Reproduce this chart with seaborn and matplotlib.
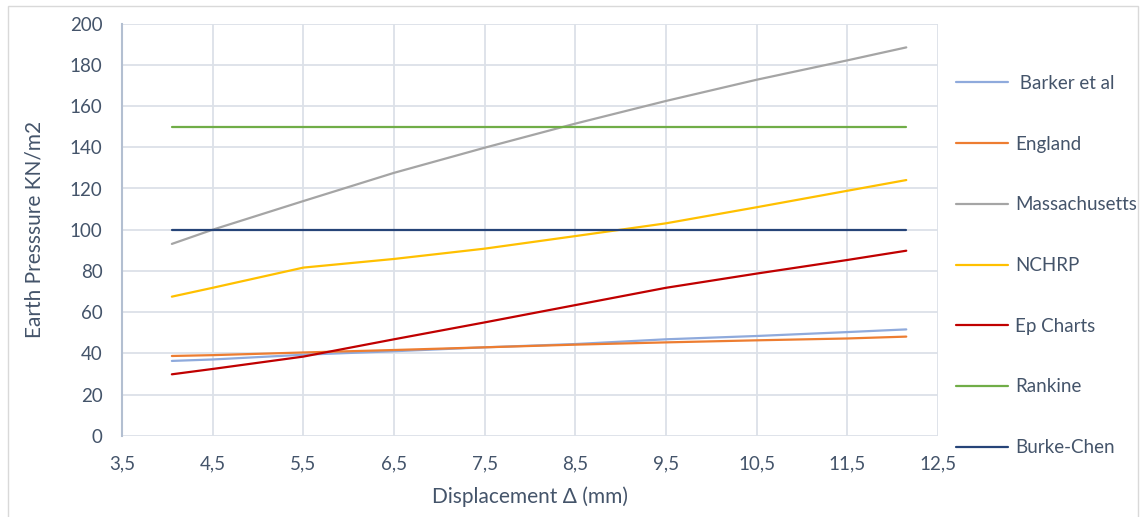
import pandas as pd
import matplotlib
matplotlib.use("Agg")
import matplotlib.pyplot as plt
import seaborn as sns
from matplotlib.patches import Rectangle

# displacement values read at the start, every grid line, and the end
displacement = [4.05, 4.5, 5.5, 6.5, 7.5, 8.5, 9.5, 10.5, 11.5, 12.15]

barker = [36.3, 37.0, 39.3, 41.0, 42.9, 44.5, 46.8, 48.4, 50.3, 51.6]
england = [38.7, 39.1, 40.4, 41.6, 42.9, 44.2, 45.3, 46.3, 47.2, 48.1]
massachusetts = [93.1, 100.0, 113.9, 127.6, 139.8, 151.5, 162.5, 172.8, 182.2, 188.5]
nchrp = [67.5, 71.8, 81.6, 85.8, 90.8, 96.9, 103.1, 110.9, 118.9, 124.1]
ep_charts = [29.8, 32.4, 38.4, 46.8, 55.0, 63.4, 71.8, 78.7, 85.3, 89.8]
rankine = [150] * len(displacement)
burke_chen = [100] * len(displacement)

series_names = [" Barker et al", "England", "Massachusetts", "NCHRP",
                "Ep Charts", "Rankine", "Burke-Chen"]
series_values = [barker, england, massachusetts, nchrp,
                 ep_charts, rankine, burke_chen]
colors = ["#8FAADC", "#ED7D31", "#A5A5A5", "#FFC000",
          "#C00000", "#70AD47", "#264478"]

x_ticks = [3.5, 4.5, 5.5, 6.5, 7.5, 8.5, 9.5, 10.5, 11.5, 12.5]
x_tick_labels = ["3,5", "4,5", "5,5", "6,5", "7,5", "8,5", "9,5",
                 "10,5", "11,5", "12,5"]
y_ticks = list(range(0, 201, 20))

# build long table for seaborn
rows = []
for name, vals in zip(series_names, series_values):
    for x, y in zip(displacement, vals):
        rows.append({"Displacement": x, "Pressure": y, "Method": name})
df = pd.DataFrame(rows)

sns.set_style("white")
plt.rcParams["font.family"] = ["Lato", "DejaVu Sans"]
text_col = "#44546A"

fig = plt.figure(figsize=(11.41, 5.17), dpi=100)
ax = fig.add_axes([122 / 1141, 1 - 435.7 / 517, (938 - 122) / 1141, (435.7 - 23.7) / 517])

sns.lineplot(data=df, x="Displacement", y="Pressure", hue="Method",
             hue_order=series_names, palette=dict(zip(series_names, colors)),
             linewidth=1.6, ax=ax, legend=True)

ax.set_xlim(3.5, 12.5)
ax.set_ylim(0, 200)
ax.set_xticks(x_ticks, x_tick_labels)
ax.set_yticks(y_ticks)
ax.tick_params(length=0, labelsize=13.5, labelcolor=text_col)
ax.tick_params(axis="y", pad=14)
ax.tick_params(axis="x", pad=14)
ax.grid(True, color="#DCE1E8", linewidth=1.3)
ax.set_axisbelow(True)
for s in ["top", "right", "bottom"]:
    ax.spines[s].set_visible(False)
ax.spines["left"].set_color("#B3BFD1")
ax.spines["left"].set_linewidth(1.5)

ax.set_xlabel("Displacement \u0394 (mm)", fontsize=15, color=text_col, labelpad=10)
ax.set_ylabel("Earth Presssure KN/m2", fontsize=15, color=text_col, labelpad=18)

ax.legend(loc="upper left", bbox_to_anchor=(955.7 / 1141, 1 - 75 / 517),
          bbox_transform=fig.transFigure, frameon=False, fontsize=13.5,
          labelspacing=2.33, handlelength=2.8, handletextpad=0.35,
          borderpad=0, borderaxespad=0, labelcolor=text_col)

# thin outer frame like the source picture
fig.patches.append(Rectangle((8 / 1141, -0.01), 1130 / 1141, 1 - 6 / 517 + 0.01,
                             transform=fig.transFigure, fill=False,
                             edgecolor="#D9D9D9", linewidth=1.0))

plt.savefig("out.png", dpi=100)
